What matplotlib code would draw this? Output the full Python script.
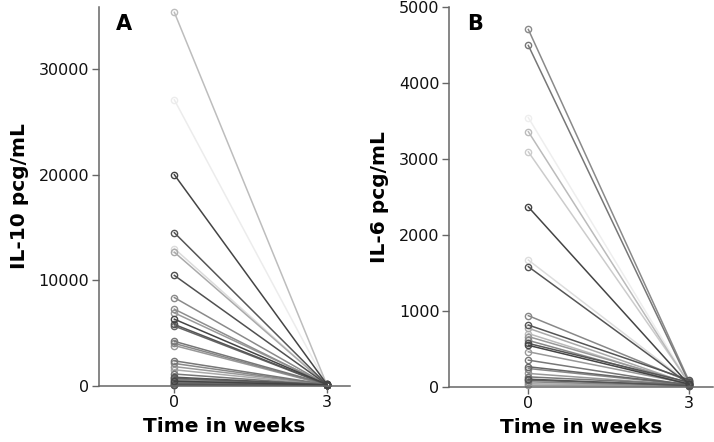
import matplotlib
matplotlib.use("Agg")
import matplotlib.pyplot as plt

weeks = [0, 3]

# Panel A: IL-10 (pcg/mL)
il10_week0 = [35400, 27100, 20000, 14500, 13000, 12650, 10450, 8350, 7250, 6900,
              6300, 5800, 5650, 4200, 4000, 3800, 2350, 2100, 1800, 1500,
              1100, 800, 700, 600, 500, 420, 330, 260, 200, 150, 100, 70, 40]
il10_week3 = [60, 40, 120, 90, 50, 70, 100, 80, 60, 150,
              110, 90, 70, 130, 80, 60, 100, 70, 90, 50,
              60, 80, 40, 70, 50, 60, 30, 40, 50, 30, 20, 30, 20]
il10_gray = ['#bdbdbd', '#ececec', '#444444', '#555555', '#dcdcdc', '#aaaaaa', '#505050', '#8a8a8a', '#8e8e8e', '#9a9a9a',
             '#444444', '#555555', '#666666', '#777777', '#888888', '#999999', '#777777', '#888888', '#999999', '#aaaaaa',
             '#777777', '#555555', '#666666', '#888888', '#999999', '#444444', '#777777', '#aaaaaa', '#666666', '#888888', '#555555', '#999999', '#777777']

# Panel B: IL-6 (pcg/mL)
il6_week0 = [4700, 4490, 3540, 3355, 3090, 2365, 1667, 1580, 935, 812,
             770, 700, 660, 610, 570, 545, 460, 350, 263, 240,
             175, 130, 100, 86, 65, 40, 20]
il6_week3 = [80, 60, 50, 40, 55, 30, 45, 35, 70, 90,
             40, 30, 50, 25, 60, 35, 40, 20, 30, 25,
             20, 30, 15, 20, 10, 15, 10]
il6_gray = ['#8a8a8a', '#777777', '#eeeeee', '#bbbbbb', '#cccccc', '#444444', '#dddddd', '#555555', '#888888', '#555555',
            '#aaaaaa', '#bbbbbb', '#999999', '#888888', '#555555', '#444444', '#999999', '#777777', '#666666', '#888888',
            '#999999', '#777777', '#555555', '#666666', '#888888', '#aaaaaa', '#999999']

plt.rcParams['font.family'] = ['DejaVu Sans']

fig = plt.figure(figsize=(7.14, 4.42), dpi=100)
axA = fig.add_axes([0.1387, 0.1276, 0.490 - 0.1387, 0.984 - 0.1276])
axB = fig.add_axes([0.629, 0.125, 0.9986 - 0.629, 0.985 - 0.125])

def draw(ax, w0, w3, grays, ymax, yticks, ylabel, letter):
    order = sorted(range(len(w0)), key=lambda i: -int(grays[i][1:3], 16))
    for i in order:
        ax.plot(weeks, [w0[i], w3[i]], color=grays[i], lw=1.1, marker='o',
                ms=4.5, mfc='none', mec=grays[i], mew=1.0, clip_on=False)
    ax.set_xlim(-1.48, 3.45)
    ax.set_ylim(0, ymax)
    ax.set_xticks(weeks)
    ax.set_yticks(yticks)
    ax.tick_params(direction='out', length=5, width=1, color='#666666',
                   labelsize=11.5, labelcolor='#111111', pad=2)
    for s in ['top', 'right']:
        ax.spines[s].set_visible(False)
    for s in ['left', 'bottom']:
        ax.spines[s].set_color('#666666')
        ax.spines[s].set_linewidth(1.1)
    ax.set_xlabel('Time in weeks', fontsize=14.5, fontweight='bold', labelpad=5)
    ax.set_ylabel(ylabel, fontsize=14.5, fontweight='bold', labelpad=7)
    ax.text(0.1, 0.955, letter, transform=ax.transAxes, fontsize=15,
            fontweight='bold', ha='center', va='center')

draw(axA, il10_week0, il10_week3, il10_gray, 35900, [0, 10000, 20000, 30000],
     'IL-10 pcg/mL', 'A')
draw(axB, il6_week0, il6_week3, il6_gray, 5000, [0, 1000, 2000, 3000, 4000, 5000],
     'IL-6 pcg/mL', 'B')

fig.savefig('out.png', dpi=100)
